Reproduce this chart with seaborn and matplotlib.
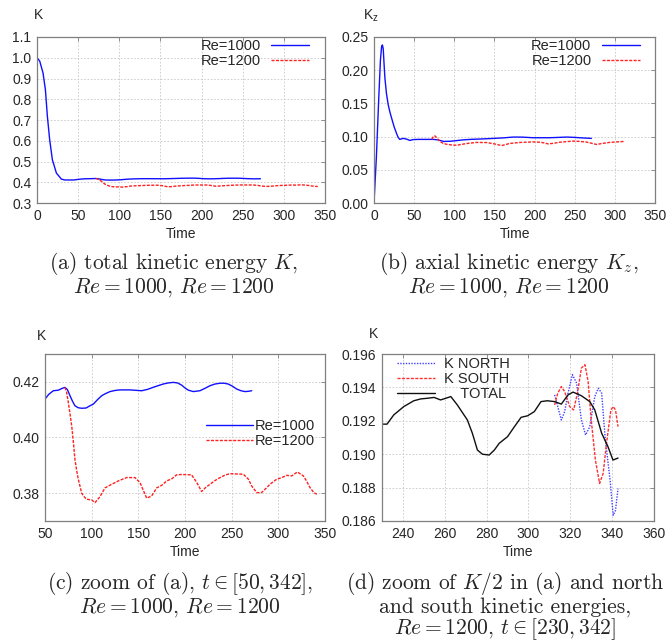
import matplotlib
matplotlib.use("Agg")
from matplotlib import pyplot as plt
import numpy as np
import pandas as pd
import seaborn as sns

# --- data ---
# total kinetic energy K, Re=1000
t_k1000 = [0, 3.3, 7.3, 10.2, 12.6, 15.4, 18.7, 23.6, 29.7, 33.7, 40, 45, 50, 54, 58.9, 64.3, 68,
           71.4, 74, 76.8, 79.5, 82.1, 85.5, 89.3, 94, 98.2, 101.8, 106, 110.7, 115, 119.7, 125,
           130, 141, 153.6, 160, 165.7, 171, 176.5, 182, 187.5, 192, 196.5, 200, 203.6, 208.9,
           216, 221, 226.8, 232, 237.5, 242, 246.4, 251, 255.4, 260, 264.3, 268, 271.5]
k1000 = [1.0, 0.984, 0.927, 0.847, 0.718, 0.605, 0.508, 0.444, 0.415, 0.411, 0.411, 0.411, 0.4138,
         0.4155, 0.4168, 0.417, 0.4176, 0.418, 0.4172, 0.415, 0.413, 0.4114, 0.4107, 0.4105,
         0.4106, 0.4114, 0.412, 0.4135, 0.415, 0.4158, 0.4165, 0.4169, 0.4171, 0.4171, 0.4168,
         0.4173, 0.418, 0.4186, 0.4192, 0.4196, 0.4198, 0.4196, 0.4188, 0.4178, 0.417, 0.4165,
         0.4168, 0.4176, 0.4186, 0.4192, 0.4195, 0.4195, 0.4192, 0.4184, 0.4174, 0.4168, 0.4165,
         0.4166, 0.4168]

# total kinetic energy K, Re=1200
t_k1200 = [71.4, 73, 75, 77, 78.6, 80.5, 82.1, 84, 85.7, 87.5, 89.3, 92, 94.7, 100, 103.6, 109,
           114.3, 121.5, 128.6, 137.5, 146.4, 151.8, 158.9, 164.3, 169.7, 175, 180.4, 186, 191,
           196, 207, 212.5, 217.8, 222, 226.8, 232, 237.5, 243, 248, 255, 262.5, 268, 271.4,
           276.8, 282, 287, 291, 298.2, 303, 308.9, 314.3, 320.4, 326.8, 330, 334, 338, 341.2]
k1200 = [0.418, 0.4165, 0.4126, 0.408, 0.4042, 0.398, 0.392, 0.388, 0.385, 0.3825, 0.380, 0.3787,
         0.3778, 0.3776, 0.3766, 0.3788, 0.3819, 0.3832, 0.3844, 0.3856, 0.3856, 0.3838, 0.3782,
         0.379, 0.3819, 0.3828, 0.3844, 0.3852, 0.3866, 0.3867, 0.3866, 0.3839, 0.3806, 0.382,
         0.3832, 0.3845, 0.3856, 0.3865, 0.387, 0.3869, 0.3868, 0.385, 0.3826, 0.3802, 0.3802,
         0.3818, 0.3832, 0.385, 0.3855, 0.3864, 0.3862, 0.3876, 0.3862, 0.3845, 0.382, 0.3802,
         0.3796]

# axial kinetic energy Kz
t_kz1000 = [0, 3, 6, 8, 9.5, 10.5, 11.5, 12.5, 13.6, 15.5, 17.7, 19.8, 21.9, 25, 28, 30, 32, 34,
            36.3, 40.5, 44.6, 48.7, 55, 60, 74, 80, 86.8, 95, 101, 110, 120, 135, 149, 160,
            173.5, 185, 198, 210, 219, 230, 240, 250, 260, 270.7]
kz1000 = [0, 0.07, 0.16, 0.215, 0.236, 0.238, 0.232, 0.21, 0.188, 0.165, 0.148, 0.137, 0.128,
          0.115, 0.105, 0.099, 0.0958, 0.0965, 0.0973, 0.0963, 0.0942, 0.0955, 0.0958, 0.0958,
          0.0958, 0.095, 0.0927, 0.093, 0.0937, 0.095, 0.0958, 0.0965, 0.0973, 0.098, 0.0993,
          0.0992, 0.0983, 0.0983, 0.0983, 0.0988, 0.0993, 0.0988, 0.098, 0.0973]
t_kz1200 = [72, 74, 76, 78, 82, 86, 90, 96, 102.5, 108, 115, 122, 127, 140.5, 150, 159, 164, 169,
            182, 198, 208, 217, 224, 231, 240, 248, 256, 264.5, 271, 277, 285, 293, 302, 312]
kz1200 = [0.0958, 0.1005, 0.101, 0.0985, 0.0925, 0.090, 0.0885, 0.0875, 0.087, 0.088, 0.0895,
          0.0905, 0.0912, 0.091, 0.089, 0.0865, 0.088, 0.0897, 0.0912, 0.092, 0.0915, 0.089,
          0.090, 0.0915, 0.0925, 0.0932, 0.0928, 0.0918, 0.090, 0.0882, 0.0898, 0.0912, 0.092,
          0.0927]

# K/2 total, north, south (Re=1200)
t_total = [230, 232.4, 235.6, 240.4, 245.2, 248.5, 251.7, 254.9, 258, 260.5, 262.9, 266, 270.8,
           273.2, 275.6, 278, 281.2, 283.7, 286, 290, 293.3, 296.5, 299.6, 302.8, 306, 309,
           312.5, 315.7, 318.9, 321.3, 325.3, 329.3, 331.7, 335, 338, 340.4, 342.8]
k_total = [0.1918, 0.1918, 0.19235, 0.19285, 0.1932, 0.19331, 0.19335, 0.1934, 0.19325, 0.19335,
           0.19345, 0.19295, 0.19205, 0.19125, 0.19025, 0.1900, 0.18995, 0.19025, 0.19065,
           0.19105, 0.19165, 0.19221, 0.1923, 0.19255, 0.19315, 0.1932, 0.19315, 0.1930,
           0.19355, 0.19372, 0.1935, 0.19315, 0.19265, 0.19125, 0.19045, 0.18965, 0.18977]
t_north = [312.5, 314, 315.7, 317.3, 318.9, 321, 323, 325.3, 327.3, 329.3, 331.7, 333.4, 335,
           336.6, 339, 340.5, 341.6, 342.8]
k_north = [0.19355, 0.19285, 0.19205, 0.19255, 0.19365, 0.19476, 0.19426, 0.19205, 0.19115,
           0.19165, 0.19345, 0.19395, 0.19365, 0.19105, 0.18845, 0.18634, 0.18664, 0.18794]
t_south = [312.5, 314, 315.7, 317.3, 319.7, 321.6, 323.4, 325.3, 327, 328.5, 330, 332, 334,
           335.7, 337.3, 339.4, 340.5, 341.6, 342.8]
k_south = [0.19295, 0.19365, 0.19405, 0.19375, 0.19285, 0.19265, 0.19365, 0.19516, 0.19536,
           0.19436, 0.19205, 0.18965, 0.18825, 0.18885, 0.19065, 0.19265, 0.19285, 0.19265,
           0.19165]

captions = [
    '(a) total kinetic energy $K$,\n$Re = 1000$, $Re = 1200$',
    '(b) axial kinetic energy $K_z$,\n$Re = 1000$, $Re = 1200$',
    '(c) zoom of (a), $t \\in [50, 342]$,\n$Re = 1000$, $Re = 1200$',
    '(d) zoom of $K/2$ in (a) and north\nand south kinetic energies,\n'
    '$Re = 1200$, $t \\in [230, 342]$',
]

BLUE = '#1010ff'
RED = '#ff2020'
GRAY = '#7f7f7f'
W, H = 668, 644


def px_axes(fig, left, top, right, bottom):
    return fig.add_axes([left / W, 1 - bottom / H, (right - left) / W, (bottom - top) / H])


def gnuplot_style(ax, xlim, ylim, xticks, yticks, yfmt):
    ax.set_xlim(*xlim)
    ax.set_ylim(*ylim)
    ax.set_xticks(xticks)
    ax.set_yticks(yticks)
    ax.set_yticklabels([yfmt.format(v) for v in yticks])
    ax.grid(True, color='#c8c8c8', linestyle=(0, (2, 2)), linewidth=0.6)
    for s in ax.spines.values():
        s.set_color(GRAY)
        s.set_linewidth(0.9)
    ax.tick_params(direction='in', length=3, width=0.6, color=GRAY, labelsize=10,
                   top=True, right=True, pad=4)
    ax.set_xlabel('Time', fontsize=10, labelpad=3)
    ax.set_ylabel('')


def line(ax, x, y, **kw):
    sns.lineplot(x=np.array(x), y=np.array(y), ax=ax, estimator=None, sort=False, **kw)


def main() -> None:
    sns.set_style('white')
    plt.rcParams['font.family'] = ['Liberation Sans', 'DejaVu Sans']
    fig = plt.figure(figsize=(W / 100, H / 100), dpi=100)

    red_dash = (0, (2.2, 1.0))

    # (a)
    ax = px_axes(fig, 37, 37, 325, 203)
    line(ax, t_k1000, k1000, color=BLUE, lw=1.0, label='Re=1000')
    line(ax, t_k1200, k1200, color=RED, lw=1.0, linestyle=red_dash, label='Re=1200')
    gnuplot_style(ax, (0, 350), (0.3, 1.1), np.arange(0, 351, 50),
                  np.round(np.arange(0.3, 1.11, 0.1), 1), '{:.1f}')
    ax.legend(loc='upper right', bbox_to_anchor=(0.945, 0.985), markerfirst=False, frameon=False,
              fontsize=10.5, handlelength=2.6, handletextpad=0.7, labelspacing=0.05,
              borderpad=0, borderaxespad=0)
    ax.text(-0.01, 1.13, 'K', transform=ax.transAxes, fontsize=10, va='center')

    # (b)
    ax = px_axes(fig, 374, 37, 655, 203)
    line(ax, t_kz1000, kz1000, color=BLUE, lw=1.0, label='Re=1000')
    line(ax, t_kz1200, kz1200, color=RED, lw=1.0, linestyle=red_dash, label='Re=1200')
    gnuplot_style(ax, (0, 350), (0, 0.25), np.arange(0, 351, 50),
                  np.round(np.arange(0, 0.251, 0.05), 2), '{:.2f}')
    ax.legend(loc='upper right', bbox_to_anchor=(0.945, 0.985), markerfirst=False, frameon=False,
              fontsize=10.5, handlelength=2.6, handletextpad=0.7, labelspacing=0.05,
              borderpad=0, borderaxespad=0)
    ax.text(-0.04, 1.13, r'K$_\mathregular{z}$', transform=ax.transAxes, fontsize=10,
            va='center')

    # (c)
    ax = px_axes(fig, 45, 354, 325, 521)
    line(ax, t_k1000, k1000, color=BLUE, lw=1.0, label='Re=1000')
    line(ax, t_k1200, k1200, color=RED, lw=1.0, linestyle=red_dash, label='Re=1200')
    gnuplot_style(ax, (50, 350), (0.37, 0.43), np.arange(50, 351, 50),
                  [0.38, 0.40, 0.42], '{:.2f}')
    ax.legend(loc='upper left', bbox_to_anchor=(0.575, 0.61), frameon=False,
              fontsize=10.5, handlelength=3.2, handletextpad=0.15, labelspacing=0.05,
              borderpad=0, borderaxespad=0)
    ax.text(-0.03, 1.11, 'K', transform=ax.transAxes, fontsize=10, va='center')

    # (d)
    ax = px_axes(fig, 382, 354, 654, 521)
    line(ax, t_north, k_north, color='#4040ff', lw=1.0, linestyle=(0, (1.0, 1.0)),
         label='K NORTH')
    line(ax, t_south, k_south, color='#ff3030', lw=1.0, linestyle=red_dash, label='K SOUTH')
    line(ax, t_total, k_total, color='#101010', lw=1.0, label='    TOTAL')
    gnuplot_style(ax, (230, 360), (0.186, 0.196), np.arange(240, 361, 20),
                  np.round(np.arange(0.186, 0.1961, 0.002), 3), '{:.3f}')
    ax.legend(loc='upper left', bbox_to_anchor=(0.055, 0.98), frameon=False,
              fontsize=10.5, handlelength=2.6, handletextpad=0.6, labelspacing=0.05,
              borderpad=0, borderaxespad=0)
    ax.text(-0.05, 1.12, 'K', transform=ax.transAxes, fontsize=10, va='center')

    # captions (one block each, lines centred)
    cap = dict(fontsize=15.5, fontfamily='cmr10', math_fontfamily='cm', ha='center',
               va='top', multialignment='center', linespacing=0.98)
    fig.text(174 / W, 1 - 250 / H, captions[0], **cap)
    fig.text(509 / W, 1 - 250 / H, captions[1], **cap)
    fig.text(180 / W, 1 - 570 / H, captions[2], **cap)
    fig.text(505 / W, 1 - 570 / H, captions[3], **cap)

    fig.savefig('out.png', dpi=100)


if __name__ == "__main__":
    main()
